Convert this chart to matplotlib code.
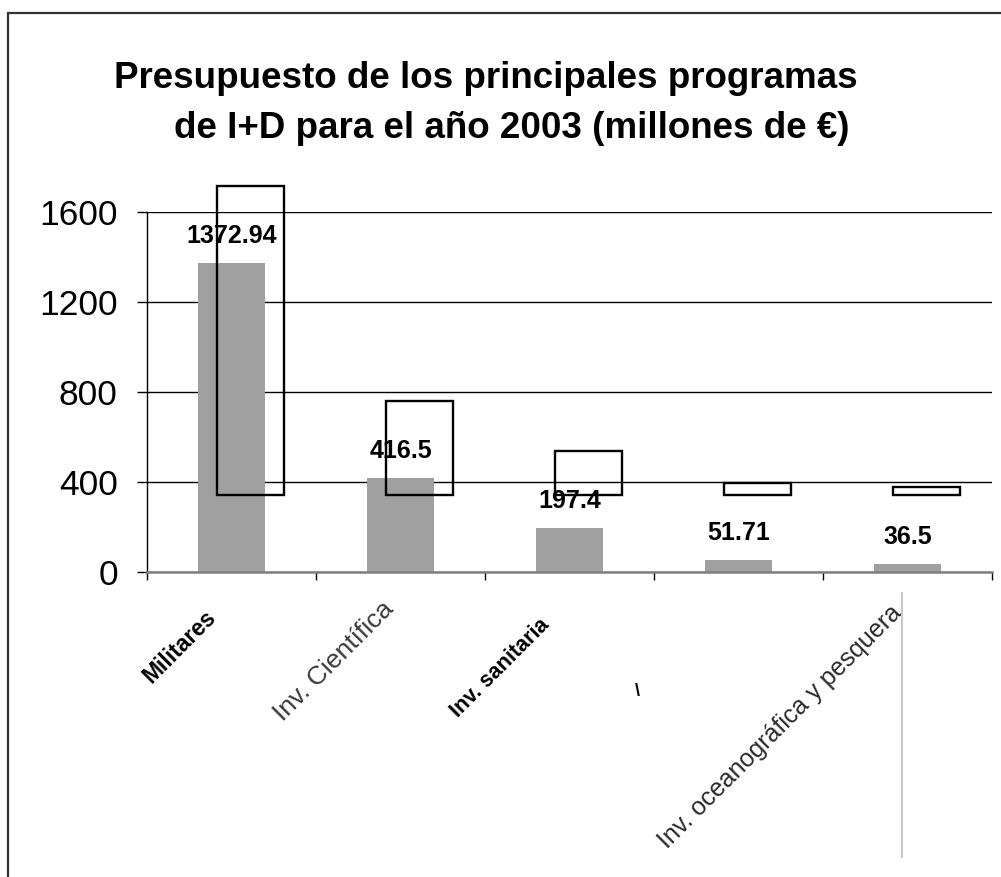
import matplotlib
matplotlib.use("Agg")
import matplotlib.pyplot as plt
from matplotlib.lines import Line2D
from matplotlib.patches import Rectangle
import numpy as np

plt.rcParams['font.family'] = ['Liberation Sans', 'DejaVu Sans']

categories = ["Militares", "Inv. Científica", "Inv. sanitaria", "", "Inv. oceanográfica y pesquera"]
values = [1372.94, 416.5, 197.4, 51.71, 36.5]
value_labels = ["1372.94", "416.5", "197.4", "51.71", "36.5"]
yticks = [0, 400, 800, 1200, 1600]
frame_base = 342  # bottom of the outlined (shifted) bars

W, H = 1001, 877
fig = plt.figure(figsize=(W / 100, H / 100), dpi=100)
ax = fig.add_axes([147 / W, (H - 572) / H, (992 - 147) / W, 360 / H])

x = np.arange(len(values))
ax.set_xlim(-0.5, len(values) - 0.5)
ax.set_ylim(0, 1600)

# gridlines
ax.set_yticks(yticks)
ax.set_yticklabels([str(v) for v in yticks], fontsize=25.5)
ax.yaxis.grid(True, color='black', linewidth=1.0, zorder=0)
ax.set_axisbelow(True)

# gray bars
ax.bar(x, values, width=0.4, color='#a0a0a0', zorder=2)

# outlined shifted bars
ax.bar(x + 0.112, values, width=0.4, bottom=frame_base, facecolor='none',
       edgecolor='black', linewidth=1.7, zorder=4, clip_on=False)

# value labels
for xi, v, lab in zip(x, values, value_labels):
    ax.annotate(lab, (xi, v), xytext=(0, 19.5), textcoords='offset points',
                ha='center', va='center', fontsize=18, fontweight='bold', zorder=5)

# spines
for s in ['top', 'right']:
    ax.spines[s].set_visible(False)
ax.spines['left'].set_color('black')
ax.spines['left'].set_linewidth(1.0)
ax.spines['bottom'].set_color('#808080')
ax.spines['bottom'].set_linewidth(1.8)
ax.spines['bottom'].set_zorder(3)

ax.tick_params(axis='y', direction='out', length=7, width=1, color='black', pad=14)
ax.set_xticks(np.arange(len(values) + 1) - 0.5)
ax.set_xticklabels([])
ax.tick_params(axis='x', direction='out', length=6, width=1, color='black')

# category labels
label_style = [
    dict(fontweight='bold', color='black', fontsize=16.5),
    dict(fontweight='normal', color='#3a3a3a', fontsize=19),
    dict(fontweight='bold', color='black', fontsize=15.5),
    dict(fontweight='normal', color='black', fontsize=15),
    dict(fontweight='normal', color='#2a2a2a', fontsize=18),
]
label_offset = [(-14, -30), (-8, -24), (-17, -36), (-10, -28), (-7, -27)]
for xi, cat, st, off in zip(x, categories, label_style, label_offset):
    if not cat:
        continue
    ax.annotate(cat, (xi, 0), xycoords=('data', 'axes fraction'),
                xytext=off, textcoords='offset points',
                rotation=45, ha='right', va='center', rotation_mode='anchor', **st)

# small fragment of hidden fourth label
ax.annotate("\\", (3, 0), xycoords=('data', 'axes fraction'),
            xytext=(-73, -86), textcoords='offset points',
            ha='center', va='center', fontsize=13, fontweight='bold')

# title
fig.text(486 / W, 1 - 79 / H, "Presupuesto de los principales programas",
         ha='center', va='center', fontsize=26.5, fontweight='bold')
fig.text(512 / W, 1 - 129 / H, "de I+D para el año 2003 (millones de €)",
         ha='center', va='center', fontsize=26.5, fontweight='bold')

# outer frame (left and top edges visible)
fig.add_artist(Rectangle((7.5 / W, -0.05), 1.2, 1.05 - 13 / H, transform=fig.transFigure,
                         facecolor='none', edgecolor='#333333', linewidth=1.6))
# light vertical line on the right
fig.add_artist(Line2D([902 / W, 902 / W], [1 - 857 / H, 1 - 593 / H], transform=fig.transFigure,
                      color='#c8c8c8', linewidth=1.5))

fig.savefig("out.png", dpi=100)
